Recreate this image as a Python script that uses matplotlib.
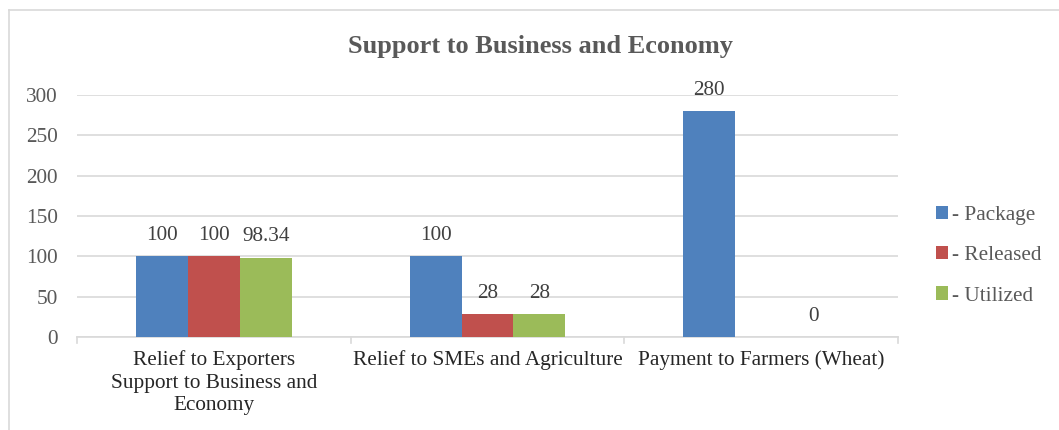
import matplotlib
matplotlib.use("Agg")
import matplotlib.pyplot as plt
from matplotlib.lines import Line2D
import numpy as np

categories = ["Relief to Exporters\nSupport to Business and\nEconomy",
              "Relief to SMEs and Agriculture",
              "Payment to Farmers (Wheat)"]
series_names = ["- Package", "- Released", "- Utilized"]
package = [100, 100, 280]
released = [100, 28, None]
utilized = [98.34, 28, 0]
value_labels = [["100", "100", "280"], ["100", "28", ""], ["98.34", "28", "0"]]
colors = ["#4F81BD", "#C0504D", "#9BBB59"]
yticks = [0, 50, 100, 150, 200, 250, 300]

plt.rcParams["font.family"] = ["Liberation Serif", "DejaVu Serif"]

FS = 15.3
W, H = 1059, 430
fig = plt.figure(figsize=(W / 100, H / 100), dpi=100)
ax = fig.add_axes([77 / W, 1 - 337 / H, (898 - 77) / W, (337 - 95) / H])

x = np.arange(len(categories))
bw = 0.19
series = [package, released, utilized]
for i, (vals, col, name, labs) in enumerate(zip(series, colors, series_names, value_labels)):
    xs = x + (i - 1) * bw
    hv = [np.nan if v is None else v for v in vals]
    ax.bar(xs, hv, width=bw, color=col, label=name, zorder=3)
    for xi, v, lab in zip(xs, vals, labs):
        if v is None or lab == "":
            continue
        ax.text(xi, v + 14, lab, ha="center", va="bottom", fontsize=FS,
                color="#404040", clip_on=False)

ax.set_xlim(-0.5, len(categories) - 0.5)
ax.set_ylim(0, 300)
ax.set_yticks(yticks)
ax.set_yticklabels([str(t) for t in yticks], fontsize=FS, color="#595959")
ax.yaxis.grid(True, color="#D9D9D9", linewidth=1.2, zorder=0)
ax.tick_params(axis="y", length=0, pad=14)
ax.set_xticks(x)
ax.set_xticklabels(categories, fontsize=FS, color="#262626", linespacing=1.26)
ax.tick_params(axis="x", length=0, pad=9.5)
for b in [-0.5, 0.5, 1.5, 2.5]:
    ax.plot([b, b], [0, -7], color="#D9D9D9", lw=1.2, clip_on=False, zorder=2)
for s in ["top", "right", "left"]:
    ax.spines[s].set_visible(False)
ax.spines["bottom"].set_color("#D9D9D9")
ax.spines["bottom"].set_linewidth(1.2)

fig.text(540 / W, 1 - 47 / H, "Support to Business and Economy", ha="center",
         va="center", fontsize=19, fontweight="bold", color="#595959")

leg = fig.legend(loc="upper left", bbox_to_anchor=(927 / W, 1 - 197 / H),
                 frameon=False, fontsize=FS, handlelength=0.6, handleheight=0.6,
                 handletextpad=0.2, labelspacing=1.0, borderaxespad=0)
for t in leg.get_texts():
    t.set_color("#595959")

# outer chart border
fig.add_artist(Line2D([8.5 / W, 8.5 / W], [0, 1 - 10 / H], color="#D9D9D9", lw=1.2))
fig.add_artist(Line2D([8.5 / W, 1], [1 - 10 / H, 1 - 10 / H], color="#D9D9D9", lw=1.2))

fig.savefig("out.png", dpi=100, facecolor="white")
